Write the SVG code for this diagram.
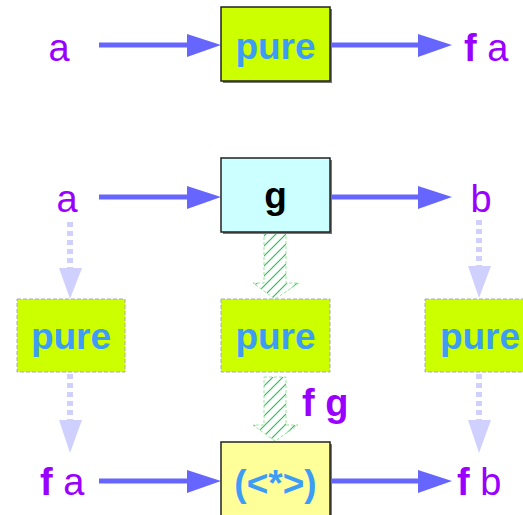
<svg xmlns="http://www.w3.org/2000/svg" width="523" height="515" viewBox="0 0 523 515">
<style>
.lbl{font-family:"Liberation Sans",Arial,sans-serif;font-size:38px;fill:#9900ff}
.b{font-weight:bold}
.box{font-family:"Liberation Sans",Arial,sans-serif;font-size:37px;font-weight:bold;text-anchor:middle}
.solid{stroke:#222;stroke-width:1.5}
.dash{stroke:#aaaaaa;stroke-width:1;stroke-dasharray:4,2}
.arr{stroke:#6666ff;stroke-width:5;fill:none}
.dar{stroke:#d0d0ff;stroke-width:6;stroke-dasharray:5,4;fill:none}
.hatch{fill:url(#hp);stroke:#99e699;stroke-width:1;stroke-dasharray:3,2}
</style>
<defs>
<pattern id="hp" patternUnits="userSpaceOnUse" width="10" height="10">
<rect width="10" height="10" fill="#ffffff"/>
<path d="M-1,11 L11,-1 M-3,3 L3,-3 M7,13 L13,7" stroke="#22c050" stroke-width="1.1"/>
</pattern>
</defs>
<g id="connectors">
<line class="arr" x1="99" y1="45" x2="190" y2="45"/><polygon points="187,34 221,45 187,57" fill="#6666ff"/>
<line class="arr" x1="330" y1="45" x2="421" y2="45"/><polygon points="418,34 452,45 418,57" fill="#6666ff"/>
<line class="arr" x1="99" y1="197" x2="190" y2="197"/><polygon points="187,186 221,197 187,209" fill="#6666ff"/>
<line class="arr" x1="330" y1="197" x2="421" y2="197"/><polygon points="418,186 452,197 418,209" fill="#6666ff"/>
<line class="arr" x1="99" y1="481" x2="190" y2="481"/><polygon points="187,470 221,481 187,493" fill="#6666ff"/>
<line class="arr" x1="330" y1="481" x2="421" y2="481"/><polygon points="418,470 452,481 418,493" fill="#6666ff"/>
<line class="dar" x1="70" y1="222" x2="70" y2="268"/><polygon points="59,268 82,268 70,299" fill="#d0d0ff"/>
<line class="dar" x1="70" y1="374" x2="70" y2="420"/><polygon points="59,420 82,420 70,453" fill="#d0d0ff"/>
<line class="dar" x1="479" y1="220" x2="479" y2="266"/><polygon points="468,266 491,266 479,298" fill="#d0d0ff"/>
<line class="dar" x1="479" y1="374" x2="479" y2="420"/><polygon points="468,420 491,420 479,453" fill="#d0d0ff"/>
<polygon class="hatch" points="264,233 286,233 286,283 299,283 275,299 253,283 264,283"/>
<polygon class="hatch" points="264,377 286,377 286,425 298,425 275,441 253,425 264,425"/>
</g>
<g id="n-a1"><text class="lbl" x="59" y="61" text-anchor="middle">a</text></g>
<g id="n-pure1"><rect x="223" y="9" width="109" height="74" fill="#777"/><rect class="solid" x="221" y="7" width="109" height="74" fill="#ccff00"/><text class="box" x="275.5" y="59" fill="#3d9cf5">pure</text></g>
<g id="n-fa1"><text class="lbl" x="464" y="61"><tspan class="b">f</tspan> a</text></g>
<g id="n-a2"><text class="lbl" x="67" y="212" text-anchor="middle">a</text></g>
<g id="n-g"><rect x="223" y="160" width="109" height="74" fill="#777"/><rect class="solid" x="221" y="158" width="109" height="74" fill="#ccffff"/><text class="box" x="275.5" y="208" fill="#000">g</text></g>
<g id="n-b"><text class="lbl" x="481" y="212" text-anchor="middle">b</text></g>
<g id="n-pure2"><rect class="dash" x="17" y="299" width="108" height="73" fill="#ccff00"/><text class="box" x="71" y="349" fill="#3d9cf5">pure</text></g>
<g id="n-pure3"><rect class="dash" x="221" y="299" width="109" height="73" fill="#ccff00"/><text class="box" x="275.5" y="349" fill="#3d9cf5">pure</text></g>
<g id="n-pure4"><rect class="dash" x="425" y="299" width="108" height="73" fill="#ccff00"/><text class="box" x="480" y="349" fill="#3d9cf5">pure</text></g>
<g id="n-fg"><text class="lbl b" x="302" y="416">f g</text></g>
<g id="n-fa2"><text class="lbl" x="40" y="495"><tspan class="b">f</tspan> a</text></g>
<g id="n-ap"><rect x="223" y="444" width="109" height="74" fill="#777"/><rect class="solid" x="221" y="442" width="109" height="74" fill="#ffff99"/><text class="box" x="275.5" y="496" fill="#3d9cf5">(&lt;*&gt;)</text></g>
<g id="n-fb"><text class="lbl" x="457" y="495"><tspan class="b">f</tspan> b</text></g>
</svg>
